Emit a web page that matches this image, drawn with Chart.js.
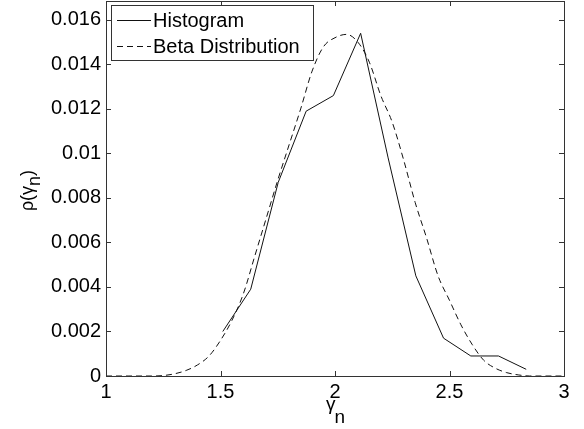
<!DOCTYPE html>
<html>
<head>
<meta charset="utf-8">
<script src="https://cdn.jsdelivr.net/npm/chart.js@4"></script>
<style>
  html, body { margin: 0; padding: 0; background: #fff; }
  #wrap { width: 584px; height: 429px; }
</style>
</head>
<body>
<div id="wrap"><canvas id="chart" width="584" height="429"></canvas></div>
<script>
// Histogram (solid line)
const histX = [1.51, 1.632, 1.752, 1.874, 1.993, 2.112, 2.232, 2.353, 2.474, 2.593, 2.714, 2.835];
const histY = [0.0020, 0.0039, 0.0087, 0.0119, 0.0126, 0.0154, 0.0098, 0.0045, 0.0017, 0.0009, 0.0009, 0.0003];

// Beta distribution (dashed line)
const betaX = [1.0, 1.1, 1.2, 1.25, 1.3, 1.35, 1.4, 1.45, 1.5, 1.55, 1.6, 1.65, 1.7, 1.75, 1.8, 1.85, 1.9, 1.95,
               2.0, 2.05, 2.1, 2.15, 2.2, 2.25, 2.3, 2.35, 2.4, 2.45, 2.5, 2.55, 2.6, 2.65, 2.7, 2.75, 2.8, 2.85, 2.9, 3.0];
const betaY = [0, 0, 0, 0.00002, 0.0001, 0.00025, 0.0005, 0.0009, 0.0016, 0.0025, 0.0037, 0.0054, 0.0071, 0.0088, 0.0104, 0.0120, 0.0137, 0.0148,
               0.0152, 0.01535, 0.0150, 0.0141, 0.0126, 0.0114, 0.0097, 0.0078, 0.0062, 0.0045, 0.0034, 0.0023, 0.0014, 0.0007, 0.00035, 0.00015, 0.00005, 0, 0, 0];

// Tick labels
const xTicks = [1, 1.5, 2, 2.5, 3];
const yTicks = [0, 0.002, 0.004, 0.006, 0.008, 0.01, 0.012, 0.014, 0.016];

const seriesNames = ['Histogram', 'Beta Distribution'];

const FONT = '"Liberation Sans", Arial, Helvetica, sans-serif';
const AXIS_COLOR = '#333';

// Box around the plot with inward ticks (MATLAB style)
const frame = {
    id: 'frame',
    afterDatasetsDraw(chart) {
        const { ctx, chartArea: a, scales } = chart;
        ctx.save();
        ctx.strokeStyle = AXIS_COLOR;
        ctx.lineWidth = 1;
        ctx.strokeRect(Math.round(a.left) + 0.5, Math.round(a.top) + 0.5,
                       Math.round(a.right - a.left), Math.round(a.bottom - a.top));
        ctx.beginPath();
        xTicks.forEach(v => {
            const px = Math.round(scales.x.getPixelForValue(v)) + 0.5;
            ctx.moveTo(px, a.bottom); ctx.lineTo(px, a.bottom - 5);
            ctx.moveTo(px, a.top); ctx.lineTo(px, a.top + 5);
        });
        yTicks.forEach(v => {
            const py = Math.round(scales.y.getPixelForValue(v)) + 0.5;
            ctx.moveTo(a.left, py); ctx.lineTo(a.left + 5, py);
            ctx.moveTo(a.right, py); ctx.lineTo(a.right - 5, py);
        });
        ctx.stroke();
        ctx.restore();
    }
};

// Legend box in the upper left corner
const legendBox = {
    id: 'legendBox',
    afterDraw(chart) {
        const { ctx } = chart;
        const x0 = 111.5, y0 = 5.5, w = 202, h = 55;
        ctx.save();
        ctx.fillStyle = '#fff';
        ctx.fillRect(x0, y0, w, h);
        ctx.strokeStyle = AXIS_COLOR;
        ctx.lineWidth = 1;
        ctx.strokeRect(x0, y0, w, h);
        chart.data.datasets.forEach((ds, i) => {
            const y = 20 + i * 26;
            ctx.beginPath();
            ctx.setLineDash(ds.borderDash || []);
            ctx.strokeStyle = ds.borderColor;
            ctx.moveTo(117, y + 0.5);
            ctx.lineTo(151, y + 0.5);
            ctx.stroke();
            ctx.setLineDash([]);
            ctx.fillStyle = '#000';
            ctx.font = '20px ' + FONT;
            ctx.textBaseline = 'middle';
            ctx.textAlign = 'left';
            ctx.fillText(ds.label, 153, y + 1);
        });
        ctx.restore();
    }
};

// Axis titles with subscripts
const axisTitles = {
    id: 'axisTitles',
    afterDraw(chart) {
        const { ctx, chartArea: a } = chart;
        ctx.save();
        ctx.fillStyle = '#000';
        ctx.textAlign = 'left';
        ctx.textBaseline = 'alphabetic';

        // x title: gamma_n
        ctx.font = '19px ' + FONT;
        const wg = ctx.measureText('γ').width;
        const wn = ctx.measureText('n').width;
        let x = (a.left + a.right) / 2 + 1 - (wg + wn) / 2;
        ctx.fillText('γ', x, 410);
        ctx.fillText('n', x + wg - 1, 423);

        // y title: rho(gamma_n), rotated
        ctx.font = '18px ' + FONT;
        ctx.translate(33, (a.top + a.bottom) / 2 + 2);
        ctx.rotate(-Math.PI / 2);
        const parts = [['ρ(γ', 0], ['n', 7], [')', 0]];
        let total = 0;
        parts.forEach(p => total += ctx.measureText(p[0]).width);
        let cx = -total / 2;
        parts.forEach(p => {
            ctx.fillText(p[0], cx, p[1]);
            cx += ctx.measureText(p[0]).width;
        });
        ctx.restore();
    }
};

new Chart(document.getElementById('chart'), {
    type: 'line',
    data: {
        datasets: [
            {
                label: seriesNames[0],
                data: histX.map((x, i) => ({ x: x, y: histY[i] })),
                borderColor: '#111',
                borderWidth: 1,
                pointRadius: 0,
                tension: 0,
                fill: false
            },
            {
                label: seriesNames[1],
                data: betaX.map((x, i) => ({ x: x, y: betaY[i] })),
                borderColor: '#111',
                borderWidth: 1,
                borderDash: [6, 4],
                pointRadius: 0,
                cubicInterpolationMode: 'monotone',
                fill: false
            }
        ]
    },
    options: {
        responsive: false,
        animation: false,
        events: [],
        layout: { padding: { top: 1, right: 20, left: 0, bottom: 0 } },
        plugins: {
            legend: { display: false },
            tooltip: { enabled: false }
        },
        scales: {
            x: {
                type: 'linear',
                min: 1,
                max: 3,
                grid: { display: false, drawTicks: false },
                border: { display: false },
                ticks: {
                    color: '#000',
                    font: { family: FONT, size: 20 },
                    padding: 4,
                    maxRotation: 0,
                    callback: v => String(v)
                },
                afterBuildTicks: s => { s.ticks = xTicks.map(v => ({ value: v })); },
                afterFit: s => { s.height = 53; s.paddingLeft = 0; s.paddingRight = 0; }
            },
            y: {
                type: 'linear',
                min: 0,
                max: 0.01685,
                grid: { display: false, drawTicks: false },
                border: { display: false },
                ticks: {
                    color: '#000',
                    font: { family: FONT, size: 20 },
                    padding: 5,
                    callback: v => String(+v.toFixed(3))
                },
                afterBuildTicks: s => { s.ticks = yTicks.map(v => ({ value: v })); },
                afterFit: s => { s.width = 106; s.paddingTop = 0; s.paddingBottom = 0; }
            }
        }
    },
    plugins: [frame, legendBox, axisTitles]
});
</script>
</body>
</html>
